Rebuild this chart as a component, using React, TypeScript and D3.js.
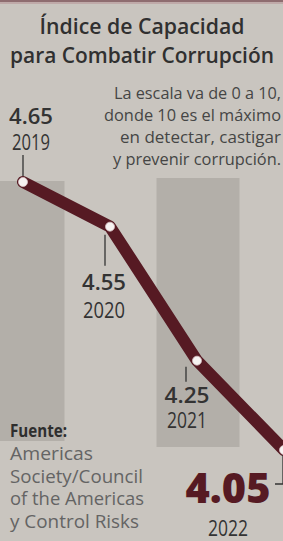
import React from 'react';
import * as d3 from 'd3';

const years = ['2019', '2020', '2021', '2022'];
const values = [4.65, 4.55, 4.25, 4.05];
const valueLabels = ['4.65', '4.55', '4.25', '4.05'];
const titleLines = ['Índice de Capacidad', 'para Combatir Corrupción'];
const noteLines = ['La escala va de 0 a 10,', 'donde 10 es el máximo', 'en detectar, castigar', 'y prevenir corrupción.'];
const sourceTitle = 'Fuente:';
const sourceLines = ['Americas', 'Society/Council', 'of the Americas', 'y Control Risks'];
const bandYears = ['2019', '2021'];

const W = 283;
const H = 541;
const FONT = '"Open Sans", "Noto Sans", sans-serif';
const MAROON = '#561a23';
const TEXT = '#333';

// label layout relative to each point: value center dx, value baseline dy, year baseline dy, text widths
const labelLayout = [
  { dx: 8, vy: -58, yy: -32, vw: 44, yw: 38, fs: 22, bold: 600, color: TEXT, lead: [[0, -27], [0, -6]] },
  { dx: -6, vy: 63, yy: 91, vw: 44, yw: 42, fs: 22, bold: 600, color: TEXT, lead: [[-5, 8], [-5, 39]] },
  { dx: -10, vy: 42, yy: 67, vw: 45, yw: 40, fs: 22, bold: 600, color: TEXT, lead: [[-11, 6], [-11, 21]] },
  { dx: -56, vy: 53, yy: 86, vw: 85, yw: 40, fs: 42, bold: 800, color: MAROON, lead: [[-1, 5], [-1, 34], [-9, 34]] },
];

export default function App() {
  const x = d3.scalePoint<string>().domain(years).range([23, 284]);
  const y = d3.scaleLinear().domain([4.05, 4.65]).range([450, 182]);
  const step = x.step();
  const pts = years.map((yr, i) => [x(yr) as number, y(values[i])] as [number, number]);
  const line = d3.line<[number, number]>().x(d => d[0]).y(d => d[1]).curve(d3.curveLinear)(pts) || '';
  const bandTop = y(4.65) - 2;
  const bandBottom = y(4.05) - 5;

  return (
    <svg width={W} height={H} viewBox={`0 0 ${W} ${H}`} style={{ position: 'absolute', left: 0, top: 0, display: 'block' }}>
      <rect x={0} y={0} width={W} height={H} fill="#c9c5bf" />
      <rect x={0} y={0} width={W} height={2} fill="#8e6d70" />
      <rect x={0} y={2} width={W} height={2} fill="#bfaaa9" />
      {bandYears.map((b, i) => (
        <rect key={b} x={(x(b) as number) - step / 2 + (i === 0 ? 2 : 3)} y={bandTop + (i === 0 ? 1 : -2)} width={step - 4} height={bandBottom - bandTop + (i === 0 ? -5 : 4)} fill="#b3afa9" />
      ))}

      {titleLines.map((t, i) => (
        <text key={t} x={142} y={34 + i * 29} textAnchor="middle" fontFamily={FONT} fontWeight={600} fontSize={21}
          fill="#303030" textLength={i === 0 ? 205 : 264} lengthAdjust="spacingAndGlyphs">{t}</text>
      ))}
      {noteLines.map((t, i) => (
        <text key={t} x={281} y={99 + i * 22} textAnchor="end" fontFamily={FONT} fontSize={16.5} fill="#454545"
          textLength={[167, 177, 161, 168][i]} lengthAdjust="spacingAndGlyphs">{t}</text>
      ))}

      <path d={line} fill="none" stroke={MAROON} strokeWidth={12} strokeLinecap="round" strokeLinejoin="round" />
      {pts.map((p, i) => (
        <circle key={years[i]} cx={p[0]} cy={p[1]} r={4.5} fill="#f6f2f1" stroke="#d9c3c5" strokeWidth={0.8} />
      ))}

      {pts.map((p, i) => {
        const L = labelLayout[i];
        const lead = d3.line()(L.lead.map(([a, b]) => [p[0] + a, p[1] + b] as [number, number])) || '';
        return (
          <g key={years[i]}>
            <path d={lead} fill="none" stroke="#333" strokeWidth={1.3} />
            <text x={p[0] + L.dx} y={p[1] + L.vy} textAnchor="middle" fontFamily={FONT} fontWeight={L.bold} fontSize={L.fs}
              fill={L.color} textLength={L.vw} lengthAdjust="spacingAndGlyphs">{valueLabels[i]}</text>
            <text x={p[0] + L.dx} y={p[1] + L.yy} textAnchor="middle" fontFamily={FONT} fontSize={21}
              fill={TEXT} textLength={L.yw} lengthAdjust="spacingAndGlyphs">{years[i]}</text>
          </g>
        );
      })}

      <text x={10} y={437} fontFamily={FONT} fontWeight={700} fontSize={18} fill="#2e2e2e" textLength={57} lengthAdjust="spacingAndGlyphs">{sourceTitle}</text>
      {sourceLines.map((t, i) => (
        <text key={t} x={10} y={460 + i * 22.7} fontFamily={FONT} fontSize={18} fill="#646464"
          textLength={[83, 133, 134, 129][i]} lengthAdjust="spacingAndGlyphs">{t}</text>
      ))}
    </svg>
  );
}
